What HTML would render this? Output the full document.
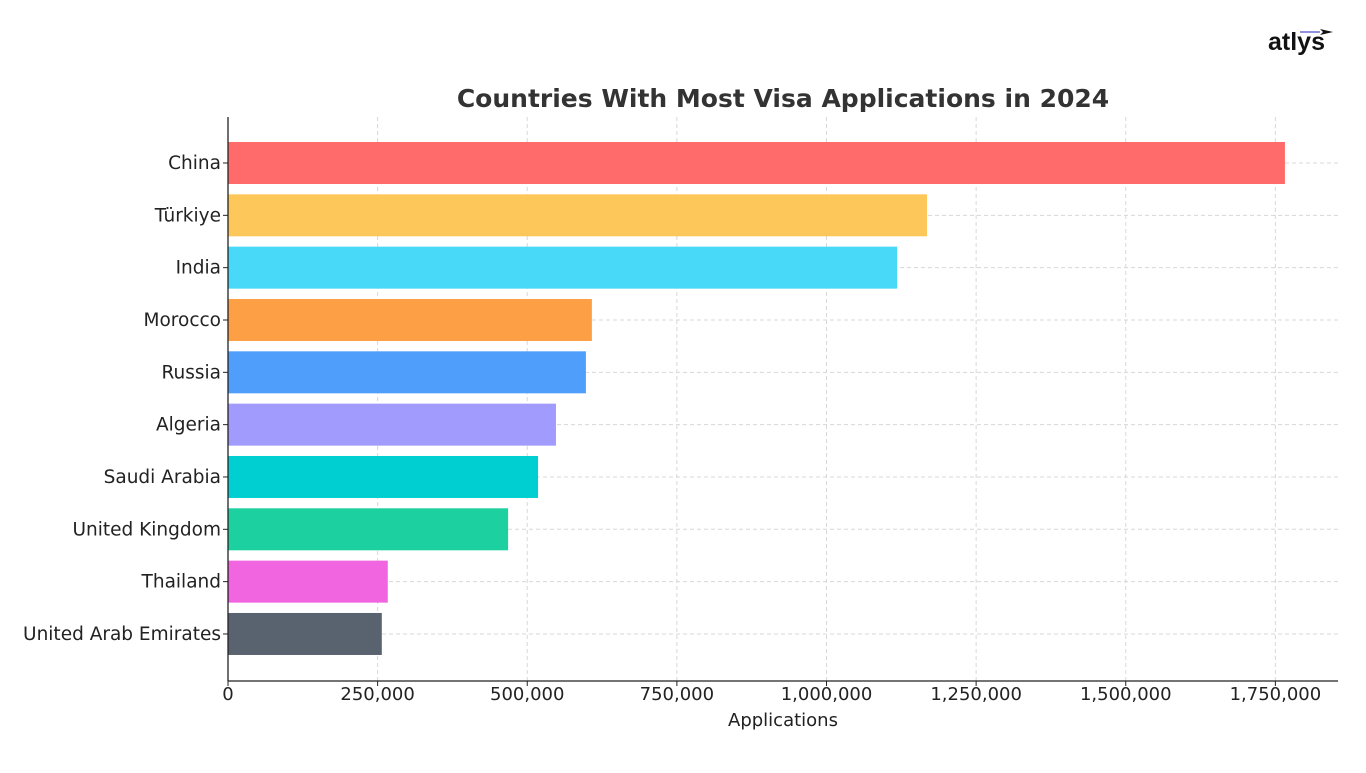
<!DOCTYPE html>
<html><head><meta charset="utf-8"><style>
body{margin:0;background:#fff;width:1366px;height:768px;overflow:hidden;font-family:"Liberation Sans","DejaVu Sans",sans-serif}
</style></head><body>
<svg id="c" width="1366" height="768" xmlns="http://www.w3.org/2000/svg">
<g>
<text x="1268" y="50" font-size="25" font-weight="bold" fill="#111" font-family="Liberation Sans, sans-serif">atlys</text>
<line x1="1300" y1="32" x2="1320" y2="32" stroke="#6b6fd6" stroke-width="1.5"/>
<path d="M1320 29 L1333 32 L1320 35 L1323 32 Z" fill="#111"/>
</g>
<text x="783" y="107" text-anchor="middle" font-size="25" font-weight="bold" fill="#333" font-family="DejaVu Sans, sans-serif">Countries With Most Visa Applications in 2024</text>
<g id="grid"></g><g id="bars"></g><g id="axes"></g>
<text x="783" y="726" text-anchor="middle" font-size="18" fill="#222" font-family="DejaVu Sans, sans-serif">Applications</text>
</svg>
<script>
const categories=["China","Türkiye","India","Morocco","Russia","Algeria","Saudi Arabia","United Kingdom","Thailand","United Arab Emirates"];
const values=[1766000,1168000,1118000,608000,598000,548000,518000,468000,267000,257000];
const colors=["#ff6b6b","#fdc75a","#48d8f8","#fd9f45","#4f9efc","#a29bfe","#00cfd1","#1dd09f","#f265e0","#59636f"];
const ticks=[0,250000,500000,750000,1000000,1250000,1500000,1750000];
const NS="http://www.w3.org/2000/svg";
const x0=228,pxPer=598.5/1e6,top0=163,step=52.33,bh=42;
const X=v=>x0+v*pxPer, Y=i=>top0+i*step;
function mk(t,a,p){const e=document.createElementNS(NS,t);for(const k in a)e.setAttribute(k,a[k]);p.appendChild(e);return e;}
const g=document.getElementById('grid'),b=document.getElementById('bars'),ax=document.getElementById('axes');
ticks.forEach(t=>{if(t>0){const l=mk('line',{x1:X(t),x2:X(t),y1:117,y2:681,stroke:'#d8d8d8','stroke-dasharray':'4,3','stroke-width':1},g);

}
const tx=mk('text',{x:X(t),y:700,'text-anchor':'middle','font-size':18,fill:'#222','font-family':'DejaVu Sans, sans-serif'},ax);tx.textContent=t.toLocaleString('en-US');


mk('line',{x1:X(t),x2:X(t),y1:681,y2:686,stroke:'#222'},ax);});
categories.forEach((c,i)=>{const l=mk('line',{x1:228,x2:1338,y1:Y(i),y2:Y(i),stroke:'#d8d8d8','stroke-dasharray':'4,3'},g);


const r=mk('rect',{x:x0,y:Y(i)-bh/2,width:X(values[i])-x0,height:bh,fill:colors[i]},b);


const tx=mk('text',{x:221,y:Y(i)+6,'text-anchor':'end','font-size':18.5,fill:'#222','font-family':'DejaVu Sans, sans-serif'},ax);tx.textContent=c;


mk('line',{x1:223,x2:228,y1:Y(i),y2:Y(i),stroke:'#222'},ax);});
mk('line',{x1:228,x2:228,y1:117,y2:681,stroke:'#222','stroke-width':1.3},ax);
mk('line',{x1:228,x2:1338,y1:681,y2:681,stroke:'#222','stroke-width':1.3},ax);
</script>
</body></html>
